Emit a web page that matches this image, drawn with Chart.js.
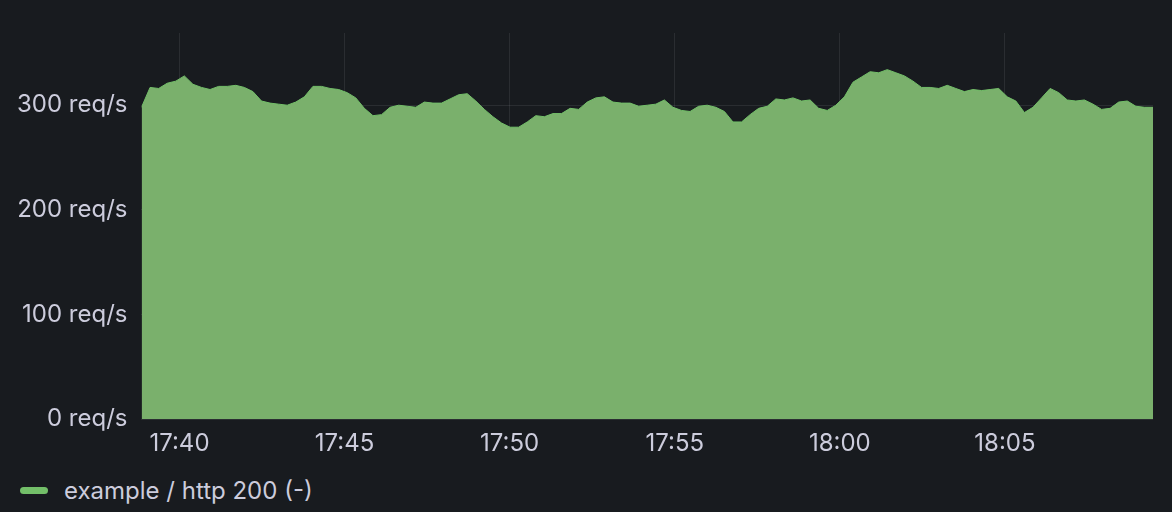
<!DOCTYPE html>
<html><head><meta charset="utf-8">
<script src="https://cdn.jsdelivr.net/npm/chart.js@4"></script>
<style>
html,body{margin:0;padding:0;background:#181b1f;width:1172px;height:512px;overflow:hidden;font-family:Inter,"Noto Sans",sans-serif}
#wrap{position:absolute;left:0;top:0;width:1172px;height:470px}
#legend{position:absolute;left:20px;top:476px;color:#ccccdc;font-size:24px;display:flex;align-items:center}
#legend span.sw{display:inline-block;width:28px;height:7px;border-radius:4px;background:#73bf69;margin-right:16px}
</style></head><body>
<div id="wrap"><canvas id="c" width="1172" height="470"></canvas></div>
<div id="legend"><span class="sw"></span><span>example / http 200 (-)</span></div>
<script>
const seriesName = "example / http 200 (-)";
const startSec = 2331;   // 17:38:51 (seconds after 17:00)
const endSec = 4169;     // 18:09:29
const values = [298,317,316,321,323,328,320,317,315,318,318,319,317,313,304,302,301,300,303,308,318,318,316,315,312,307,297,290,291,298,300,299,298,303,302,302,306,310,311,304,296,289,283,279,279,284,290,289,292,292,297,296,303,307,308,303,302,302,299,300,
301,305,298,295,294,299,300,298,294,284,284,291,297,299,306,305,307,304,305,297,295,300,308,322,327,332,331,334,331,328,323,317,317,316,319,316,313,315,314,315,316,308,304,293,298,307,316,312,305,304,305,301,296,297,303,304,299,298,298];
const yTicks = [0,100,200,300];
const step = (endSec-startSec)/(values.length-1);
const pts = values.map((v,i)=>({x:startSec+i*step,y:v}));
const fmt = s => { const m = 17*60 + Math.round(s/60); return Math.floor(m/60)+":"+String(m%60).padStart(2,"0"); };
new Chart(document.getElementById('c'),{
  type:'line',
  data:{datasets:[{label:seriesName,data:pts,borderColor:'#73bf69',borderWidth:1,backgroundColor:'rgba(122,176,108,1)',fill:'origin',pointRadius:0,tension:0}]},
  options:{responsive:false,animation:false,devicePixelRatio:1,
    layout:{padding:{top:33,right:19,left:3,bottom:2}},
    plugins:{legend:{display:false},tooltip:{enabled:false}},
    scales:{
      x:{type:'linear',min:startSec,max:endSec,
        afterBuildTicks:a=>{const t=[];for(let s=2400;s<=endSec;s+=300)t.push({value:s});a.ticks=t;},
        ticks:{color:'#ccccdc',font:{size:24,family:'Inter'},maxRotation:0,autoSkip:false,callback:v=>fmt(v),padding:10},
        grid:{color:'rgba(204,204,220,0.1)',drawTicks:false},border:{display:false}},
      y:{min:0,max:369,
        afterBuildTicks:a=>{a.ticks=yTicks.map(v=>({value:v}));},
        ticks:{color:'#ccccdc',font:{size:24,family:'Inter'},callback:v=>v+' req/s',padding:14},
        grid:{color:'rgba(204,204,220,0.1)',drawTicks:false},border:{display:false}}
    }}
});
</script>
</body></html>
